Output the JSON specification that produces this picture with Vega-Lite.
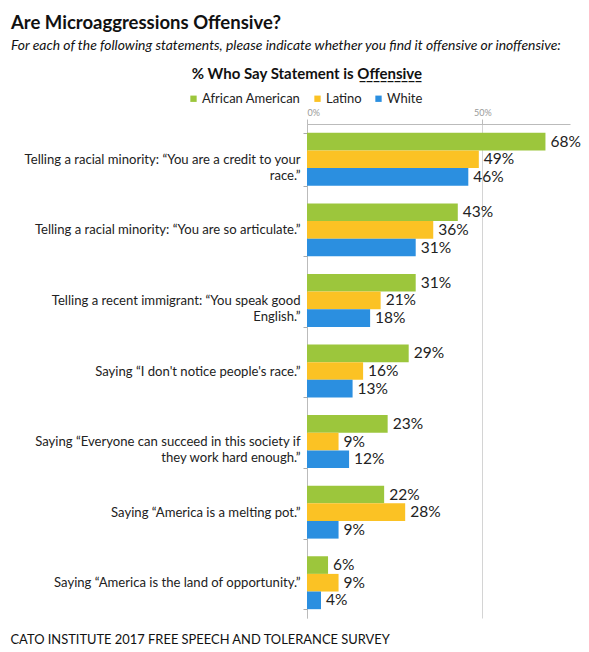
{
  "$schema": "https://vega.github.io/schema/vega-lite/v6.json",
  "width": 263,
  "height": 494,
  "autosize": {"type": "none"},
  "padding": {"left": 307, "top": 124, "right": 19, "bottom": 34},
  "background": "white",
  "config": {"view": {"stroke": null}},
  "title": {
    "text": "Are Microaggressions Offensive?",
    "subtitle": "For each of the following statements, please indicate whether you find it offensive or inoffensive:",
    "anchor": "start",
    "frame": "group",
    "dx": -296,
    "font": "Lato",
    "fontSize": 18.5,
    "fontWeight": "bold",
    "color": "#111111",
    "subtitleFont": "Lato",
    "subtitleFontSize": 13.9,
    "subtitleFontStyle": "italic",
    "subtitleColor": "#111111",
    "subtitlePadding": 7,
    "offset": 14
  },
  "data": {
    "values": [
      {"statement": "Telling a racial minority: “You are a credit to your|race.”", "group": "African American", "value": 0.68},
      {"statement": "Telling a racial minority: “You are a credit to your|race.”", "group": "Latino", "value": 0.49},
      {"statement": "Telling a racial minority: “You are a credit to your|race.”", "group": "White", "value": 0.46},
      {"statement": "Telling a racial minority: “You are so articulate.”", "group": "African American", "value": 0.43},
      {"statement": "Telling a racial minority: “You are so articulate.”", "group": "Latino", "value": 0.36},
      {"statement": "Telling a racial minority: “You are so articulate.”", "group": "White", "value": 0.31},
      {"statement": "Telling a recent immigrant: “You speak good|English.”", "group": "African American", "value": 0.31},
      {"statement": "Telling a recent immigrant: “You speak good|English.”", "group": "Latino", "value": 0.21},
      {"statement": "Telling a recent immigrant: “You speak good|English.”", "group": "White", "value": 0.18},
      {"statement": "Saying “I don't notice people's race.”", "group": "African American", "value": 0.29},
      {"statement": "Saying “I don't notice people's race.”", "group": "Latino", "value": 0.16},
      {"statement": "Saying “I don't notice people's race.”", "group": "White", "value": 0.13},
      {"statement": "Saying “Everyone can succeed in this society if|they work hard enough.”", "group": "African American", "value": 0.23},
      {"statement": "Saying “Everyone can succeed in this society if|they work hard enough.”", "group": "Latino", "value": 0.09},
      {"statement": "Saying “Everyone can succeed in this society if|they work hard enough.”", "group": "White", "value": 0.12},
      {"statement": "Saying “America is a melting pot.”", "group": "African American", "value": 0.22},
      {"statement": "Saying “America is a melting pot.”", "group": "Latino", "value": 0.28},
      {"statement": "Saying “America is a melting pot.”", "group": "White", "value": 0.09},
      {"statement": "Saying “America is the land of opportunity.”", "group": "African American", "value": 0.06},
      {"statement": "Saying “America is the land of opportunity.”", "group": "Latino", "value": 0.09},
      {"statement": "Saying “America is the land of opportunity.”", "group": "White", "value": 0.04}
    ]
  },
  "encoding": {
    "y": {
      "field": "statement",
      "type": "nominal",
      "sort": null,
      "scale": {"paddingInner": 0.25, "paddingOuter": 0.125},
      "axis": {
        "title": null,
        "labelExpr": "split(datum.label, '|')",
        "labelFont": "Lato",
        "labelFontSize": 13.1,
        "labelColor": "#222222",
        "labelLineHeight": 16,
        "labelLimit": 400,
        "labelPadding": 3,
        "tickBand": "extent",
        "tickSize": 4,
        "tickColor": "#aaaaaa",
        "domainColor": "#bbbbbb",
        "grid": false
      }
    },
    "yOffset": {"field": "group", "type": "nominal", "sort": null},
    "x": {
      "field": "value",
      "type": "quantitative",
      "scale": {"domain": [0, 0.75]},
      "axis": {
        "orient": "top",
        "values": [0, 0.5],
        "format": ".0%",
        "labelFont": "Lato",
        "labelFontSize": 9,
        "labelColor": "#999999",
        "labelPadding": 2,
        "tickSize": 5,
        "tickColor": "#bbbbbb",
        "domainColor": "#bbbbbb",
        "grid": true,
        "gridColor": "#d4d4d4",
        "title": "CATO INSTITUTE 2017 FREE SPEECH AND TOLERANCE SURVEY",
        "titleX": -297,
        "titleY": 519,
        "titleAlign": "left",
        "titleAnchor": "start",
        "titleBaseline": "alphabetic",
        "titleFont": "Lato",
        "titleFontSize": 12.9,
        "titleFontWeight": "normal",
        "titleColor": "#111111"
      }
    }
  },
  "layer": [
    {
      "mark": {"type": "bar"},
      "encoding": {
        "color": {
          "field": "group",
          "type": "nominal",
          "sort": null,
          "scale": {
            "domain": ["African American", "Latino", "White"],
            "range": ["#9cc63c", "#fbc224", "#2b8fe0"]
          },
          "legend": {
            "orient": "none",
            "legendX": -120,
            "legendY": -57,
            "direction": "horizontal",
            "title": ["% Who Say Statement is Offensive", "_________"],
            "titleFont": "Lato",
            "titleFontSize": 15,
            "titleFontWeight": "bold",
            "titleColor": "#111111",
            "titleAnchor": "end",
            "titleAlign": "right",
            "titleLineHeight": 1,
            "titleLimit": 500,
            "titlePadding": 9,
            "symbolType": "square",
            "symbolSize": 40,
            "symbolStrokeWidth": 0,
            "labelFont": "Lato",
            "labelFontSize": 13,
            "labelColor": "#222222",
            "labelOffset": 2,
            "columnPadding": 10
          }
        }
      }
    },
    {
      "mark": {"type": "text", "align": "left", "baseline": "middle", "dx": 5, "font": "Lato", "fontSize": 15.5, "color": "#222222"},
      "encoding": {
        "text": {"field": "value", "type": "quantitative", "format": ".0%"}
      }
    }
  ]
}
